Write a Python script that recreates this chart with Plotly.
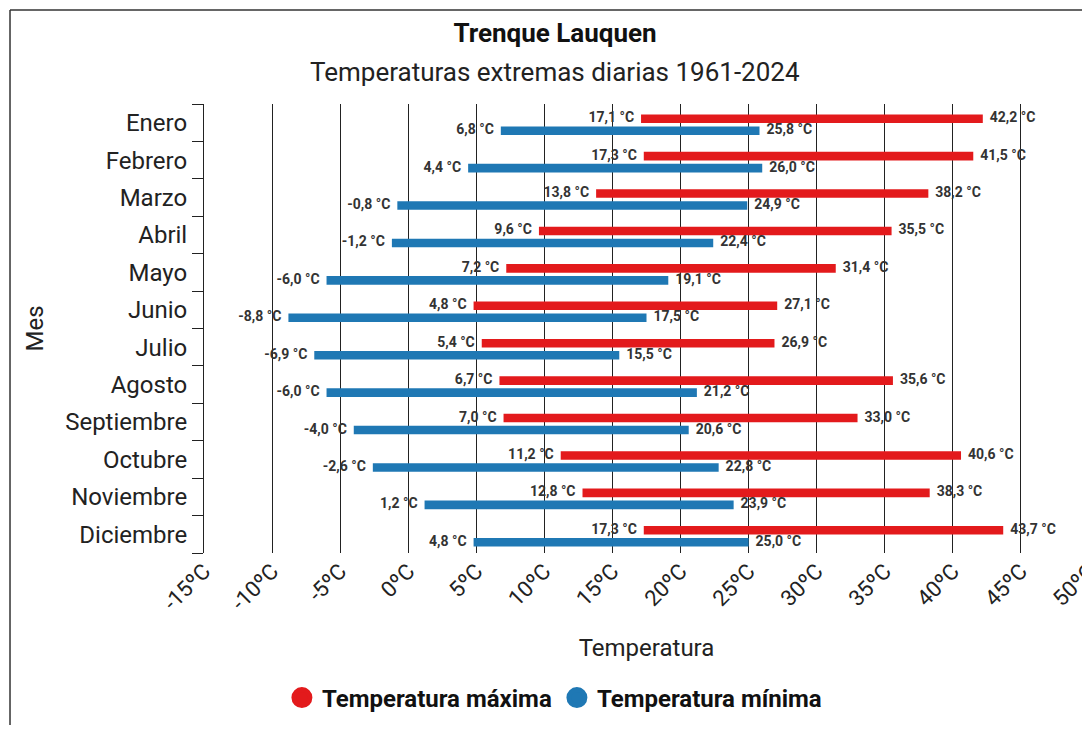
import plotly.graph_objects as go

meses = ["Enero", "Febrero", "Marzo", "Abril", "Mayo", "Junio", "Julio",
         "Agosto", "Septiembre", "Octubre", "Noviembre", "Diciembre"]

# rango de la temperatura maxima diaria (min / max)
max_desde = [17.1, 17.3, 13.8, 9.6, 7.2, 4.8, 5.4, 6.7, 7.0, 11.2, 12.8, 17.3]
max_hasta = [42.2, 41.5, 38.2, 35.5, 31.4, 27.1, 26.9, 35.6, 33.0, 40.6, 38.3, 43.7]

# rango de la temperatura minima diaria (min / max)
min_desde = [6.8, 4.4, -0.8, -1.2, -6.0, -8.8, -6.9, -6.0, -4.0, -2.6, 1.2, 4.8]
min_hasta = [25.8, 26.0, 24.9, 22.4, 19.1, 17.5, 15.5, 21.2, 20.6, 22.8, 23.9, 25.0]

x_ticks = list(range(-15, 51, 5))

ROJO = "#e31a1c"
AZUL = "#1f78b4"
FONT = "Roboto"
NB = "\u00a0\u00a0"
ANCHO = 0.23


def fmt(v):
    return f"{v:.1f}".replace(".", ",") + " °C"


pos = list(range(len(meses)))
fig = go.Figure()

# (nombre, desde, hasta, color, desplazamiento del centro de la barra)
series = [
    ("Temperatura máxima", max_desde, max_hasta, ROJO, -0.107),
    ("Temperatura mínima", min_desde, min_hasta, AZUL, 0.213),
]

for nombre, desde, hasta, color, off in series:
    fig.add_trace(go.Bar(
        y=pos, x=[h - d for d, h in zip(desde, hasta)], base=desde,
        orientation="h", width=ANCHO, offset=off - ANCHO / 2,
        marker=dict(color=color, line=dict(width=0)),
        name=nombre, showlegend=False, hoverinfo="skip"))

etiqueta = dict(family=FONT, size=14, color="#333", weight="bold")
for nombre, desde, hasta, color, off in series:
    ys = [p + off for p in pos]
    fig.add_trace(go.Scatter(
        x=desde, y=ys, mode="text", text=[fmt(v) + NB for v in desde],
        textposition="middle left", showlegend=False, hoverinfo="skip",
        textfont=etiqueta))
    fig.add_trace(go.Scatter(
        x=hasta, y=ys, mode="text", text=[NB + fmt(v) for v in hasta],
        textposition="middle right", showlegend=False, hoverinfo="skip",
        textfont=etiqueta))

# entradas de leyenda
for nombre, desde, hasta, color, off in series:
    fig.add_trace(go.Scatter(
        x=[None], y=[None], mode="markers", name=nombre,
        marker=dict(symbol="circle", size=16, color=color,
                    line=dict(color=color, width=5))))

fig.update_layout(
    width=1082, height=717,
    margin=dict(l=196, r=1, t=96, b=172),
    paper_bgcolor="white", plot_bgcolor="white",
    font=dict(family=FONT, color="#222"),
    barmode="overlay",
    title=dict(text="<b>Trenque Lauquen</b>", x=0.5056, xref="container",
               xanchor="center", y=0.9651, yref="container", yanchor="middle",
               font=dict(family=FONT, size=26, color="#111")),
    legend=dict(orientation="h", xref="container", yref="container",
                x=0.505, xanchor="center", y=0.0377, yanchor="middle",
                font=dict(family=FONT, size=24, color="#111", weight="bold"),
                itemclick=False),
    annotations=[dict(text="Temperaturas extremas diarias 1961-2024",
                      xref="paper", yref="paper", x=0.3966, y=1.0713,
                      xanchor="center", yanchor="middle", showarrow=False,
                      font=dict(family=FONT, size=26, color="#222"))],
    shapes=[
        dict(type="line", xref="paper", yref="paper", x0=-0.2192, x1=-0.2192,
             y0=1.2094, y1=-0.45, line=dict(color="#333", width=1.5)),
        dict(type="line", xref="paper", yref="paper", x0=-0.2192, x1=1.01,
             y0=1.2094, y1=1.2094, line=dict(color="#333", width=1.5)),
        # plotly no dibuja la linea de grilla en el borde del rango
        dict(type="line", xref="x", yref="paper", x0=49.95, x1=49.95, y0=0, y1=1,
             layer="below", line=dict(color="#222", width=1)),
    ],
)

fig.update_xaxes(
    range=[-15, 50], tickmode="array", tickvals=x_ticks,
    ticktext=[f"{v}ºC" for v in x_ticks], tickangle=-45,
    tickfont=dict(family=FONT, size=22, color="#222"),
    ticklabeloverflow="allow", automargin=False,
    showgrid=True, gridcolor="#222", gridwidth=1, zeroline=False,
    showline=False, ticks="",
    title=dict(text="Temperatura", standoff=24,
               font=dict(family=FONT, size=24, color="#222")),
)

fig.update_yaxes(
    range=[11.5, -0.5], tickmode="array", tickvals=pos, ticktext=meses,
    tickfont=dict(family=FONT, size=24, color="#222"), automargin=False,
    ticks="outside", ticklen=11, tickcolor="rgba(0,0,0,0)",
    minor=dict(tickmode="array", tickvals=[p - 0.5 for p in pos] + [11.5],
               ticks="outside", ticklen=11, tickcolor="#222", tickwidth=1,
               showgrid=False),
    showgrid=False, zeroline=False, showline=True, linecolor="#222", linewidth=1,
    title=dict(text="Mes", standoff=14,
               font=dict(family=FONT, size=24, color="#222")),
)

fig.write_html("out.html")
